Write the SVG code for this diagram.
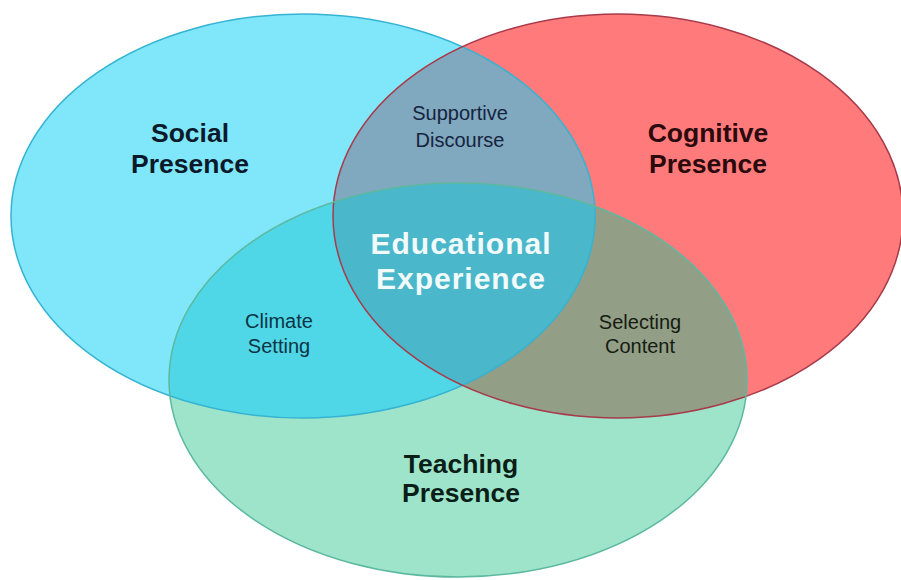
<svg xmlns="http://www.w3.org/2000/svg" width="901" height="580" viewBox="0 0 901 580">
  <style>
    .big { font-family: "Liberation Sans", Arial, sans-serif; font-weight: bold; font-size: 26.5px; text-anchor: middle; }
    .small { font-family: "Liberation Sans", Arial, sans-serif; font-size: 20px; text-anchor: middle; }
    .center { font-family: "Liberation Sans", Arial, sans-serif; font-weight: bold; font-size: 30px; letter-spacing: 1px; text-anchor: middle; fill: #F2FBFB; }
  </style>
  <defs>
    <clipPath id="clipBlue"><ellipse cx="303" cy="216" rx="292" ry="202"/></clipPath>
    <clipPath id="clipRed"><ellipse cx="618" cy="216" rx="285" ry="202"/></clipPath>
  </defs>
  <rect width="901" height="580" fill="#FFFFFF"/>
  <g id="social">
    <ellipse cx="303" cy="216" rx="292" ry="202" fill="#80E6FA"/>
  </g>
  <g id="cognitive">
    <ellipse cx="618" cy="216" rx="285" ry="202" fill="#FF7A7A"/>
  </g>
  <g id="teaching">
    <ellipse cx="458" cy="380" rx="289" ry="197" fill="#9DE4CA"/>
  </g>
  <g id="overlaps">
    <ellipse id="supportive-region" cx="618" cy="216" rx="285" ry="202" fill="#80A8BF" clip-path="url(#clipBlue)"/>
    <ellipse id="climate-region" cx="458" cy="380" rx="289" ry="197" fill="#4FD7E8" clip-path="url(#clipBlue)"/>
    <ellipse id="selecting-region" cx="458" cy="380" rx="289" ry="197" fill="#929E86" clip-path="url(#clipRed)"/>
    <g clip-path="url(#clipBlue)">
      <ellipse id="educational-region" cx="458" cy="380" rx="289" ry="197" fill="#4BB7CA" clip-path="url(#clipRed)"/>
    </g>
  </g>
  <g id="outlines" fill="none" stroke-width="1.5">
    <ellipse cx="303" cy="216" rx="292" ry="202" stroke="#35B3D3"/>
    <ellipse cx="618" cy="216" rx="285" ry="202" stroke="#A83A4A"/>
    <ellipse cx="458" cy="380" rx="289" ry="197" stroke="#5CB9A0"/>
  </g>
  <g id="labels">
    <text class="big" x="190" y="142" fill="#0B1A2A">Social</text>
    <text class="big" x="190" y="173" fill="#0B1A2A">Presence</text>
    <text class="big" x="708" y="142" fill="#2A0A0C">Cognitive</text>
    <text class="big" x="708" y="173" fill="#2A0A0C">Presence</text>
    <text class="big" x="461" y="473" fill="#0A1E18">Teaching</text>
    <text class="big" x="461" y="502" fill="#0A1E18">Presence</text>
    <text class="small" x="460" y="120" fill="#16243E">Supportive</text>
    <text class="small" x="460" y="147" fill="#16243E">Discourse</text>
    <text class="small" x="279" y="328" fill="#0C3444">Climate</text>
    <text class="small" x="279" y="353" fill="#0C3444">Setting</text>
    <text class="small" x="640" y="329" fill="#161C12">Selecting</text>
    <text class="small" x="640" y="353" fill="#161C12">Content</text>
    <text class="center" x="461" y="254">Educational</text>
    <text class="center" x="461" y="289">Experience</text>
  </g>
</svg>
